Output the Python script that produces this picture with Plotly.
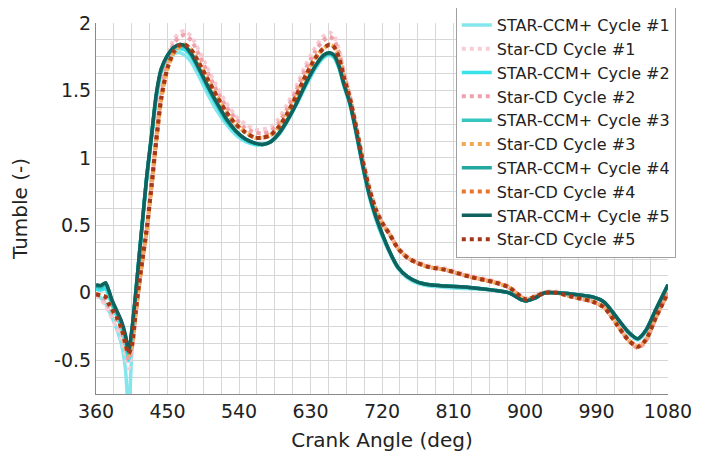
import plotly.graph_objects as go

# Crank angle grid (deg)
crank_angle = [360, 366, 372, 376, 380, 386, 392, 397, 401, 405,
               410, 414, 418, 424, 430, 436, 442, 450, 458, 466,
               472, 480, 490, 500, 512, 524, 536, 548, 560, 570,
               580, 590, 600, 612, 624, 636, 646, 654, 660, 666,
               672, 680, 688, 696, 704, 712, 720, 730, 740, 752,
               765, 780, 800, 830, 860, 880, 895, 902, 912, 925,
               940, 960, 985, 1000, 1015, 1030, 1042, 1052, 1065, 1080]

ccm_cycle1 = [0.00, -0.04, -0.08, -0.13, -0.18, -0.27, -0.38, -0.56, -0.88, -0.45,
              -0.02, 0.24, 0.49, 0.85, 1.15, 1.44, 1.62, 1.73, 1.77, 1.78,
              1.76, 1.71, 1.60, 1.48, 1.35, 1.25, 1.17, 1.12, 1.10, 1.10,
              1.12, 1.17, 1.26, 1.39, 1.53, 1.66, 1.74, 1.76, 1.74, 1.66,
              1.53, 1.38, 1.16, 0.92, 0.71, 0.55, 0.42, 0.29, 0.18, 0.11,
              0.07, 0.05, 0.04, 0.03, 0.02, 0.00, -0.05, -0.06, -0.04, 0.00,
              0.00, -0.01, -0.03, -0.07, -0.18, -0.30, -0.35, -0.29, -0.13, 0.05]
ccm_cycle2 = [0.03, 0.02, 0.03, -0.02, -0.09, -0.17, -0.26, -0.37, -0.50, -0.32,
              -0.01, 0.25, 0.50, 0.86, 1.16, 1.46, 1.64, 1.75, 1.80, 1.81,
              1.80, 1.75, 1.64, 1.52, 1.39, 1.27, 1.19, 1.13, 1.10, 1.10,
              1.12, 1.18, 1.27, 1.40, 1.54, 1.67, 1.75, 1.77, 1.75, 1.67,
              1.54, 1.39, 1.17, 0.93, 0.72, 0.56, 0.43, 0.30, 0.19, 0.12,
              0.08, 0.06, 0.05, 0.04, 0.02, 0.00, -0.05, -0.06, -0.04, 0.00,
              0.00, -0.01, -0.03, -0.07, -0.18, -0.29, -0.34, -0.28, -0.12, 0.06]
ccm_cycle3 = [0.05, 0.04, 0.06, 0.01, -0.07, -0.14, -0.22, -0.33, -0.45, -0.29,
              0.00, 0.25, 0.50, 0.87, 1.17, 1.47, 1.65, 1.76, 1.81, 1.83,
              1.82, 1.76, 1.65, 1.53, 1.40, 1.28, 1.20, 1.14, 1.11, 1.10,
              1.12, 1.18, 1.27, 1.40, 1.55, 1.68, 1.75, 1.77, 1.75, 1.67,
              1.55, 1.40, 1.18, 0.94, 0.73, 0.57, 0.44, 0.30, 0.19, 0.12,
              0.08, 0.06, 0.05, 0.04, 0.02, 0.00, -0.05, -0.06, -0.04, 0.00,
              0.00, -0.01, -0.03, -0.07, -0.18, -0.29, -0.34, -0.28, -0.12, 0.06]
ccm_cycle4 = [0.05, 0.05, 0.07, 0.02, -0.06, -0.14, -0.22, -0.32, -0.44, -0.29,
              0.00, 0.25, 0.50, 0.87, 1.17, 1.47, 1.65, 1.76, 1.82, 1.84,
              1.83, 1.77, 1.66, 1.54, 1.41, 1.29, 1.20, 1.14, 1.11, 1.10,
              1.12, 1.18, 1.27, 1.40, 1.55, 1.68, 1.76, 1.78, 1.76, 1.68,
              1.55, 1.40, 1.18, 0.94, 0.73, 0.57, 0.44, 0.30, 0.19, 0.12,
              0.08, 0.06, 0.05, 0.04, 0.02, 0.00, -0.05, -0.06, -0.04, 0.00,
              0.00, -0.01, -0.03, -0.07, -0.18, -0.29, -0.34, -0.28, -0.12, 0.06]
ccm_cycle5 = [0.06, 0.055, 0.075, 0.02, -0.05, -0.13, -0.21, -0.31, -0.43, -0.28,
              0.00, 0.25, 0.50, 0.87, 1.17, 1.48, 1.66, 1.76, 1.82, 1.84,
              1.83, 1.77, 1.66, 1.54, 1.41, 1.29, 1.20, 1.14, 1.11, 1.10,
              1.12, 1.18, 1.27, 1.40, 1.55, 1.68, 1.76, 1.78, 1.76, 1.68,
              1.55, 1.40, 1.18, 0.94, 0.73, 0.57, 0.44, 0.30, 0.19, 0.12,
              0.08, 0.06, 0.05, 0.04, 0.02, 0.00, -0.05, -0.06, -0.04, 0.00,
              0.00, -0.01, -0.03, -0.07, -0.18, -0.29, -0.34, -0.28, -0.12, 0.06]

cd_cycle1 = [-0.02, -0.05, -0.09, -0.14, -0.19, -0.26, -0.35, -0.46, -0.56, -0.45,
             -0.17, 0.04, 0.22, 0.48, 0.82, 1.18, 1.50, 1.75, 1.88, 1.93,
             1.94, 1.90, 1.79, 1.67, 1.53, 1.41, 1.31, 1.25, 1.21, 1.21,
             1.23, 1.29, 1.39, 1.53, 1.69, 1.82, 1.90, 1.93, 1.90, 1.80,
             1.64, 1.46, 1.23, 0.99, 0.79, 0.63, 0.53, 0.44, 0.34, 0.27,
             0.23, 0.20, 0.18, 0.13, 0.09, 0.05, -0.02, -0.04, -0.02, 0.01,
             0.01, -0.02, -0.06, -0.10, -0.22, -0.34, -0.39, -0.34, -0.17, 0.01]
cd_cycle2 = [-0.01, -0.03, -0.05, -0.10, -0.14, -0.20, -0.28, -0.40, -0.50, -0.42,
             -0.16, 0.04, 0.22, 0.47, 0.80, 1.16, 1.47, 1.72, 1.85, 1.90,
             1.91, 1.87, 1.76, 1.64, 1.50, 1.38, 1.29, 1.22, 1.19, 1.18,
             1.20, 1.26, 1.36, 1.50, 1.66, 1.79, 1.87, 1.90, 1.87, 1.78,
             1.63, 1.45, 1.22, 0.98, 0.78, 0.62, 0.52, 0.43, 0.33, 0.26,
             0.22, 0.19, 0.17, 0.12, 0.08, 0.04, -0.03, -0.05, -0.03, 0.00,
             0.00, -0.03, -0.065, -0.11, -0.23, -0.35, -0.41, -0.36, -0.18, 0.00]
cd_cycle3 = [-0.01, -0.02, -0.03, -0.08, -0.12, -0.18, -0.26, -0.38, -0.46, -0.40,
             -0.15, 0.05, 0.22, 0.47, 0.79, 1.13, 1.43, 1.66, 1.78, 1.83,
             1.84, 1.80, 1.70, 1.59, 1.46, 1.34, 1.25, 1.19, 1.15, 1.15,
             1.17, 1.23, 1.32, 1.46, 1.61, 1.74, 1.81, 1.84, 1.82, 1.74,
             1.60, 1.43, 1.21, 0.97, 0.77, 0.62, 0.52, 0.43, 0.33, 0.26,
             0.22, 0.19, 0.17, 0.12, 0.08, 0.04, -0.03, -0.05, -0.03, 0.00,
             0.00, -0.03, -0.065, -0.11, -0.23, -0.35, -0.40, -0.35, -0.18, 0.00]
cd_cycle4 = [-0.01, -0.02, -0.03, -0.08, -0.12, -0.18, -0.26, -0.38, -0.45, -0.40,
             -0.15, 0.05, 0.22, 0.47, 0.79, 1.13, 1.43, 1.66, 1.78, 1.83,
             1.84, 1.80, 1.70, 1.59, 1.46, 1.34, 1.25, 1.19, 1.15, 1.15,
             1.17, 1.23, 1.32, 1.46, 1.61, 1.74, 1.81, 1.84, 1.82, 1.74,
             1.60, 1.43, 1.21, 0.97, 0.77, 0.62, 0.52, 0.43, 0.33, 0.26,
             0.22, 0.19, 0.17, 0.12, 0.08, 0.04, -0.03, -0.05, -0.03, 0.00,
             0.00, -0.03, -0.065, -0.11, -0.23, -0.35, -0.40, -0.35, -0.18, 0.00]
cd_cycle5 = [-0.01, -0.02, -0.03, -0.08, -0.12, -0.18, -0.26, -0.37, -0.45, -0.39,
             -0.14, 0.06, 0.23, 0.48, 0.80, 1.14, 1.44, 1.67, 1.79, 1.84,
             1.84, 1.80, 1.70, 1.59, 1.46, 1.34, 1.25, 1.19, 1.15, 1.15,
             1.17, 1.23, 1.32, 1.46, 1.61, 1.74, 1.81, 1.84, 1.82, 1.74,
             1.60, 1.43, 1.21, 0.97, 0.77, 0.62, 0.52, 0.43, 0.33, 0.26,
             0.22, 0.19, 0.17, 0.12, 0.08, 0.04, -0.03, -0.05, -0.03, 0.00,
             0.00, -0.03, -0.065, -0.11, -0.23, -0.35, -0.40, -0.35, -0.18, 0.00]

series_names = ["STAR-CCM+ Cycle #1", "Star-CD Cycle #1",
                "STAR-CCM+ Cycle #2", "Star-CD Cycle #2",
                "STAR-CCM+ Cycle #3", "Star-CD Cycle #3",
                "STAR-CCM+ Cycle #4", "Star-CD Cycle #4",
                "STAR-CCM+ Cycle #5", "Star-CD Cycle #5"]
series_values = [ccm_cycle1, cd_cycle1, ccm_cycle2, cd_cycle2, ccm_cycle3,
                 cd_cycle3, ccm_cycle4, cd_cycle4, ccm_cycle5, cd_cycle5]
series_colors = ["#84e6ec", "#f7cdd4", "#38e2ea", "#f0a2ac", "#36c6c0",
                 "#f2a84e", "#22a89f", "#ea7428", "#0f625d", "#a3391a"]

x_ticks = [360, 450, 540, 630, 720, 810, 900, 990, 1080]
y_ticks = [-0.5, 0, 0.5, 1, 1.5, 2]
y_tick_text = ["-0.5", "0", "0.5", "1", "1.5", "2"]

fig = go.Figure()
for name, vals, col in zip(series_names, series_values, series_colors):
    is_cd = name.startswith("Star-CD")
    fig.add_trace(go.Scatter(
        x=crank_angle, y=vals, name=name, mode="lines",
        line=dict(color=col, width=4 if is_cd else 3.5,
                  dash="4px,4px" if is_cd else "solid",
                  shape="spline", smoothing=0.7),
    ))

grid_col = "#d6d6d6"
font_family = "DejaVu Sans"
fig.update_layout(
    width=705, height=448,
    margin=dict(l=88, r=45, t=15, b=62, autoexpand=False),
    paper_bgcolor="white", plot_bgcolor="white",
    font=dict(family=font_family, color="#222"),
    showlegend=True,
    legend=dict(
        x=0.629, y=1.043, xanchor="left", yanchor="top",
        bgcolor="white", bordercolor="#a0a0a0", borderwidth=1,
        font=dict(family=font_family, size=16, color="#222"),
        tracegroupgap=0, maxheight=440,
    ),
    xaxis=dict(
        range=[360, 1080], tickvals=x_ticks,
        showgrid=True, gridcolor=grid_col, gridwidth=1,
        minor=dict(dtick=22.5, tick0=360, showgrid=True, gridcolor=grid_col, gridwidth=1),
        showline=True, linecolor="#888", linewidth=1,
        zeroline=False, ticks="", tickangle=0,
        tickfont=dict(size=19, color="#222"),
        title=dict(text="Crank Angle (deg)", font=dict(size=20, color="#222"), standoff=12),
    ),
    yaxis=dict(
        range=[-0.75, 2], tickvals=y_ticks, ticktext=y_tick_text,
        showgrid=True, gridcolor=grid_col, gridwidth=1,
        minor=dict(dtick=0.125, tick0=0, showgrid=True, gridcolor=grid_col, gridwidth=1),
        showline=True, linecolor="#888", linewidth=1,
        zeroline=False, ticks="",
        tickfont=dict(size=19, color="#222"),
        title=dict(text="Tumble (-)", font=dict(size=20, color="#222"), standoff=28),
    ),
)

fig.write_html("out.html")
